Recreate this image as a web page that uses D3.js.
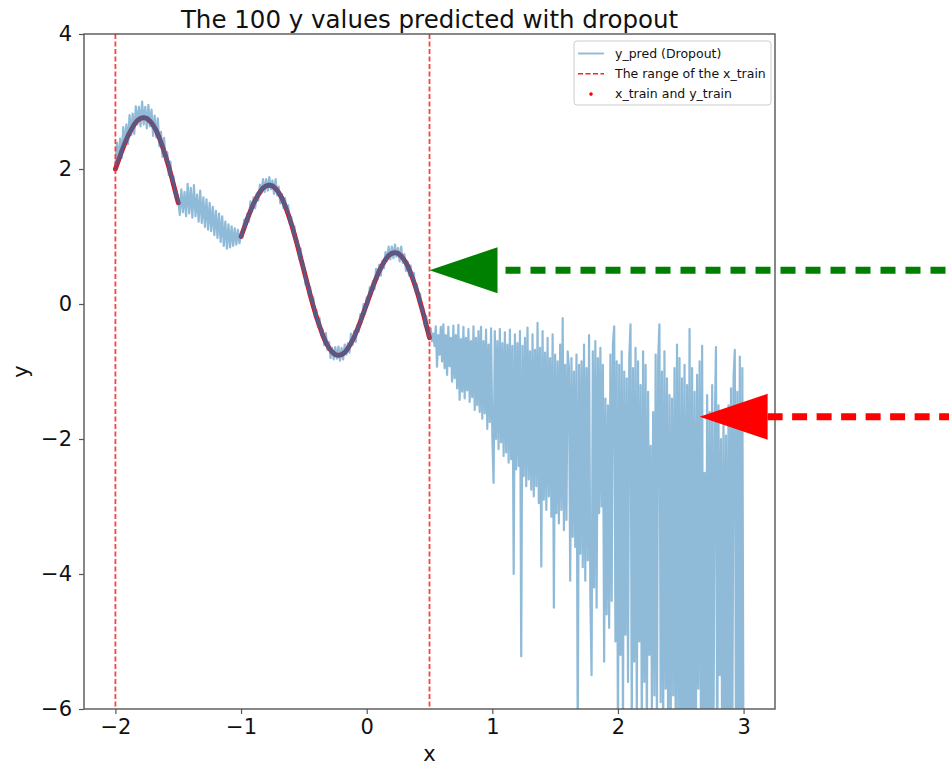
<!DOCTYPE html>
<html>
<head>
<meta charset="utf-8">
<script src="https://cdn.jsdelivr.net/npm/d3@7"></script>
<style>
body { margin: 0; background: #fff; }
svg { display: block; font-family: "DejaVu Sans", sans-serif; }
</style>
</head>
<body>
<svg id="chart" width="949" height="766"></svg>
<script>
//Chart texts and ticks
const TITLE = "The 100 y values predicted with dropout";
const X_LABEL = "x";
const Y_LABEL = "y";
const X_TICKS = [-2, -1, 0, 1, 2, 3];
const Y_TICKS = [-6, -4, -2, 0, 2, 4];
const X_DOMAIN = [-2.25, 3.25];
const Y_DOMAIN = [-6, 4];
const LEGEND_LABELS = ["y_pred (Dropout)", "The range of the x_train", "x_train and y_train"];

//Borders of the training range (the red dashed lines)
const X_TRAIN_RANGE = [-2, 0.5];

//Training points (dense enough to read as one thick curve)
const X_TRAIN = [-2, -1.975, -1.95, -1.925, -1.9, -1.875, -1.85, -1.825, -1.8, -1.775, -1.75, -1.725, -1.7, -1.675, -1.65, -1.625, -1.6, -1.575, -1.55, -1.525, -1.5,
	-1, -0.975, -0.95, -0.925, -0.9, -0.875, -0.85, -0.825, -0.8, -0.775, -0.75, -0.725, -0.7, -0.675, -0.65, -0.625, -0.6, -0.575, -0.55, -0.525,
	-0.5, -0.475, -0.45, -0.425, -0.4, -0.375, -0.35, -0.325, -0.3, -0.275, -0.25, -0.225, -0.2, -0.175, -0.15, -0.125, -0.1, -0.075, -0.05, -0.025,
	0, 0.025, 0.05, 0.075, 0.1, 0.125, 0.15, 0.175, 0.2, 0.225, 0.25, 0.275, 0.3, 0.325, 0.35, 0.375, 0.4, 0.425, 0.45, 0.475, 0.5];
const Y_TRAIN = [2.00, 2.13, 2.26, 2.38, 2.49, 2.58, 2.66, 2.72, 2.75, 2.76, 2.75, 2.71, 2.65, 2.57, 2.46, 2.33, 2.19, 2.03, 1.86, 1.68, 1.50,
	1.00, 1.13, 1.26, 1.38, 1.49, 1.58, 1.66, 1.72, 1.75, 1.76, 1.75, 1.71, 1.65, 1.57, 1.46, 1.33, 1.19, 1.03, 0.86, 0.68,
	0.50, 0.32, 0.14, -0.03, -0.19, -0.33, -0.46, -0.57, -0.65, -0.71, -0.75, -0.76, -0.75, -0.72, -0.66, -0.58, -0.49, -0.38, -0.26, -0.13,
	0.00, 0.13, 0.26, 0.38, 0.49, 0.58, 0.66, 0.72, 0.75, 0.76, 0.75, 0.71, 0.65, 0.57, 0.46, 0.33, 0.19, 0.03, -0.14, -0.32, -0.50];

//Predictions inside the training range: x from -2 to 0.5, step 0.0125
const PRED_IN_START = -2;
const PRED_IN_STEP = 0.0125;
const Y_PRED_IN = [2.05, 2.39, 2.09, 2.45, 2.16, 2.62, 2.33, 2.66, 2.37, 2.80,
	2.50, 2.82, 2.52, 2.93, 2.66, 2.92, 2.63, 3.00, 2.66, 2.92,
	2.60, 2.95, 2.63, 2.88, 2.49, 2.79, 2.47, 2.75, 2.34, 2.55,
	2.18, 2.46, 2.11, 2.25, 1.91, 2.11, 1.80, 1.89, 1.58, 1.67,
	1.55, 1.32, 1.70, 1.36, 1.66, 1.30, 1.78, 1.34, 1.72, 1.28,
	1.76, 1.30, 1.62, 1.22, 1.68, 1.20, 1.58, 1.14, 1.55, 1.10,
	1.50, 1.08, 1.44, 1.02, 1.38, 0.98, 1.34, 0.92, 1.30, 0.86,
	1.22, 0.82, 1.18, 0.84, 1.15, 0.86, 1.12, 0.88, 1.10, 0.90,
	1.05, 0.99, 1.25, 1.14, 1.34, 1.22, 1.52, 1.37, 1.58, 1.42,
	1.64, 1.53, 1.77, 1.64, 1.85, 1.66, 1.85, 1.68, 1.88, 1.70,
	1.83, 1.63, 1.85, 1.61, 1.74, 1.49, 1.63, 1.42, 1.57, 1.35,
	1.46, 1.18, 1.29, 1.03, 1.15, 0.89, 0.94, 0.67, 0.82, 0.52,
	0.59, 0.29, 0.38, 0.14, 0.25, 0.01, 0.10, -0.19, -0.09, -0.34,
	-0.21, -0.46, -0.38, -0.61, -0.43, -0.68, -0.56, -0.80, -0.65, -0.82,
	-0.64, -0.81, -0.63, -0.84, -0.65, -0.82, -0.60, -0.75, -0.58, -0.72,
	-0.44, -0.61, -0.40, -0.56, -0.32, -0.41, -0.15, -0.25, 0.00, -0.15,
	0.10, -0.01, 0.25, 0.14, 0.34, 0.22, 0.52, 0.37, 0.58, 0.42,
	0.64, 0.53, 0.77, 0.64, 0.85, 0.66, 0.85, 0.68, 0.88, 0.70,
	0.83, 0.63, 0.85, 0.61, 0.74, 0.49, 0.63, 0.42, 0.57, 0.35,
	0.46, 0.18, 0.29, 0.03, 0.15, -0.12, -0.06, -0.33, -0.18, -0.48,
	-0.45];

//Predictions outside the training range: x from 0.51 to 3, step 0.01
const PRED_OUT_START = 0.51;
const PRED_OUT_STEP = 0.01;
const Y_PRED_OUT = [-0.36, -0.55, -0.44, -0.62, -0.33, -0.93, -0.46, -0.75, -0.34, -0.85,
	-0.30, -0.95, -0.46, -1.05, -0.34, -0.92, -0.50, -1.15, -0.32, -1.10,
	-0.46, -1.25, -0.31, -1.42, -0.52, -1.30, -0.34, -1.40, -0.50, -1.28,
	-0.37, -1.45, -0.55, -1.38, -0.33, -1.57, -0.50, -1.50, -0.40, -1.60,
	-0.34, -1.70, -0.55, -1.62, -0.38, -1.85, -0.60, -1.75, -0.36, -1.95,
	-2.65, -0.40, -2.00, -0.55, -2.15, -0.37, -2.05, -0.58, -2.25, -0.42,
	-2.20, -0.60, -2.35, -0.38, -2.30, -0.62, -4.00, -0.45, -2.45, -0.58,
	-2.40, -0.40, -5.22, -0.62, -2.55, -0.50, -2.70, -0.35, -2.60, -0.70,
	-2.75, -0.45, -2.85, -0.68, -2.70, -0.28, -2.95, -0.65, -3.89, -0.40,
	-2.90, -0.72, -3.05, -0.50, -2.85, -0.80, -3.15, -0.45, -4.50, -0.75,
	-3.10, -0.85, -3.25, -0.60, -3.05, -0.21, -3.35, -0.90, -3.20, -0.70,
	-0.95, -4.10, -0.80, -3.45, -1.00, -3.60, -0.75, -6.60, -0.90, -3.70,
	-0.85, -3.90, -0.60, -4.10, -0.95, -3.80, -0.46, -4.30, -5.50, -0.70,
	-4.20, -0.55, -4.50, -0.80, -3.10, -0.65, -3.00, -0.90, -5.30, -1.40,
	-4.60, -1.50, -4.80, -0.75, -4.40, -0.60, -0.33, -5.00, -0.85, -6.50,
	-0.90, -5.20, -0.70, -6.30, -1.00, -4.90, -1.10, -5.60, -0.80, -0.30,
	-6.40, -0.95, -5.30, -0.65, -6.20, -0.85, -5.00, -1.20, -6.50, -0.70,
	-5.60, -0.90, -6.60, -1.30, -5.20, -2.10, -6.00, -1.60, -5.80, -0.75,
	-6.30, -0.85, -0.30, -5.90, -1.00, -6.50, -0.70, -5.70, -1.10, -6.80,
	-1.35, -6.20, -1.40, -5.80, -0.95, -6.60, -0.60, -6.00, -0.80, -7.00,
	-1.10, -6.40, -0.90, -6.90, -1.20, -6.30, -0.37, -7.20, -0.95, -6.50,
	-1.30, -6.80, -1.05, -5.70, -0.85, -6.20, -0.62, -7.40, -2.50, -6.90,
	-1.35, -6.60, -1.60, -7.10, -1.20, -6.80, -1.90, -0.64, -7.30, -1.50,
	-5.50, -2.00, -7.00, -1.70, -6.50, -1.95, -7.20, -1.50, -6.90, -1.25,
	-6.80, -1.10, -0.68, -7.00, -1.30, -6.60, -0.78, -7.20, -0.95, -7.50];

//Annotation arrows (tips in data coordinates)
const ARROW_X = [0.5, 2.65];
const ARROW_Y = [0.5, -1.67];
const ARROW_COLORS = ["#008000", "#ff0000"];

//Layout
const WIDTH = 949;
const HEIGHT = 766;
const PLOT_LEFT = 84;
const PLOT_RIGHT = 775;
const PLOT_TOP = 34;
const PLOT_BOTTOM = 709;
const BLUE = "#1f77b4";
const SPINE_COLOR = "#555";
const TICK_FONT = "21px";
const PRED_WIDTH = 2.2;


const svg = d3.select("#chart");

const x = d3.scaleLinear().domain(X_DOMAIN).range([PLOT_LEFT, PLOT_RIGHT]);
const y = d3.scaleLinear().domain(Y_DOMAIN).range([PLOT_BOTTOM, PLOT_TOP]);
const line = d3.line().x(d => x(d.x)).y(d => y(d.y));

//Build the prediction line from both grids
var pred = Y_PRED_IN.map((v, i) => ({x: PRED_IN_START + i * PRED_IN_STEP, y: v}));
pred = pred.concat(Y_PRED_OUT.map((v, i) => ({x: PRED_OUT_START + i * PRED_OUT_STEP, y: v})));

//Training points, split where the x gap is (the dots are so dense they form a thick curve)
const train = X_TRAIN.map((v, i) => ({x: v, y: Y_TRAIN[i]}));
const train_parts = [train.filter(d => d.x <= -1.5), train.filter(d => d.x >= -1)];

//Clip everything inside the axes
svg.append("clipPath").attr("id", "plot_clip")
	.append("rect")
	.attr("x", PLOT_LEFT).attr("y", PLOT_TOP)
	.attr("width", PLOT_RIGHT - PLOT_LEFT).attr("height", PLOT_BOTTOM - PLOT_TOP);

const plot = svg.append("g").attr("clip-path", "url(#plot_clip)");

//Training points in red
plot.selectAll("path.train")
	.data(train_parts)
	.enter()
	.append("path")
	.attr("class", "train")
	.attr("d", line)
	.attr("fill", "none")
	.attr("stroke", "#ff0000")
	.attr("stroke-width", 4.8)
	.attr("stroke-linecap", "round")
	.attr("stroke-linejoin", "round");

//The translucent prediction lies right on the training points and darkens them
plot.selectAll("path.train_cover")
	.data(train_parts)
	.enter()
	.append("path")
	.attr("class", "train_cover")
	.attr("d", line)
	.attr("fill", "none")
	.attr("stroke", BLUE)
	.attr("stroke-opacity", 0.5)
	.attr("stroke-width", 3.6)
	.attr("stroke-linecap", "round")
	.attr("stroke-linejoin", "round");

//Prediction line
plot.append("path")
	.datum(pred)
	.attr("d", line)
	.attr("fill", "none")
	.attr("stroke", BLUE)
	.attr("stroke-opacity", 0.5)
	.attr("stroke-width", PRED_WIDTH)
	.attr("stroke-linejoin", "round");

//Range of the training data
plot.selectAll("line.range")
	.data(X_TRAIN_RANGE)
	.enter()
	.append("line")
	.attr("class", "range")
	.attr("x1", d => x(d)).attr("x2", d => x(d))
	.attr("y1", PLOT_TOP).attr("y2", PLOT_BOTTOM)
	.attr("stroke", "#ff2020")
	.attr("stroke-opacity", 0.85)
	.attr("stroke-width", 1.8)
	.attr("stroke-dasharray", "5,2.5");

//Axes
const x_axis = svg.append("g")
	.attr("transform", "translate(0," + PLOT_BOTTOM + ")")
	.call(d3.axisBottom(x).tickValues(X_TICKS).tickFormat(d3.format("d")).tickSize(5).tickPadding(5).tickSizeOuter(0));
const y_axis = svg.append("g")
	.attr("transform", "translate(" + PLOT_LEFT + ",0)")
	.call(d3.axisLeft(y).tickValues(Y_TICKS).tickFormat(d3.format("d")).tickSize(5).tickPadding(7).tickSizeOuter(0));
for (const ax of [x_axis, y_axis])
{
	ax.select(".domain").remove();
	ax.selectAll(".tick line").attr("stroke", SPINE_COLOR).attr("stroke-width", 1.2);
	ax.selectAll(".tick text")
		.attr("fill", "#111")
		.style("font-family", "DejaVu Sans")
		.style("font-size", TICK_FONT);
}

//Spines
svg.append("rect")
	.attr("x", PLOT_LEFT).attr("y", PLOT_TOP)
	.attr("width", PLOT_RIGHT - PLOT_LEFT).attr("height", PLOT_BOTTOM - PLOT_TOP)
	.attr("fill", "none")
	.attr("stroke", SPINE_COLOR)
	.attr("stroke-width", 1.4);

//Title and axis labels
svg.append("text")
	.attr("x", (PLOT_LEFT + PLOT_RIGHT) / 2)
	.attr("y", 28)
	.attr("text-anchor", "middle")
	.attr("fill", "#111")
	.style("font-size", "24.5px")
	.text(TITLE);
svg.append("text")
	.attr("x", (PLOT_LEFT + PLOT_RIGHT) / 2)
	.attr("y", 761)
	.attr("text-anchor", "middle")
	.attr("fill", "#111")
	.style("font-size", "21px")
	.text(X_LABEL);
svg.append("text")
	.attr("transform", "translate(28," + (PLOT_TOP + PLOT_BOTTOM) / 2 + ") rotate(-90)")
	.attr("text-anchor", "middle")
	.attr("fill", "#111")
	.style("font-size", "21px")
	.text(Y_LABEL);

//Legend
const legend = svg.append("g").attr("transform", "translate(574,41)");
legend.append("rect")
	.attr("width", 197).attr("height", 64)
	.attr("rx", 3)
	.attr("fill", "#fff").attr("fill-opacity", 0.8)
	.attr("stroke", "#ccc");
const rows = legend.selectAll("g.row")
	.data(LEGEND_LABELS)
	.enter()
	.append("g")
	.attr("class", "row")
	.attr("transform", (d, i) => "translate(0," + (12.5 + i * 20.3) + ")");
rows.append("text")
	.attr("x", 41)
	.attr("dy", "0.35em")
	.attr("fill", "#111")
	.style("font-size", "12.5px")
	.text(d => d);
rows.filter((d, i) => i == 0).append("line")
	.attr("x1", 4).attr("x2", 30)
	.attr("stroke", BLUE).attr("stroke-opacity", 0.5).attr("stroke-width", 1.9);
rows.filter((d, i) => i == 1).append("line")
	.attr("x1", 4).attr("x2", 30)
	.attr("stroke", "#ff2020").attr("stroke-width", 1.6).attr("stroke-dasharray", "5,2.5");
rows.filter((d, i) => i == 2).append("circle")
	.attr("cx", 17).attr("r", 1.8)
	.attr("fill", "#ff0000");

//Annotation arrows: triangle head at the tip, thick dashed tail to the right border
const arrows = svg.selectAll("g.arrow")
	.data(ARROW_X.map((v, i) => ({x: v, y: ARROW_Y[i], color: ARROW_COLORS[i]})))
	.enter()
	.append("g")
	.attr("class", "arrow")
	.attr("transform", d => "translate(" + x(d.x) + "," + y(d.y) + ")");
arrows.append("line")
	.attr("x1", (d, i) => i == 0 ? 76 : 68)
	.attr("x2", d => WIDTH - x(d.x) + 10)
	.attr("stroke", d => d.color)
	.attr("stroke-width", 7)
	.attr("stroke-dasharray", (d, i) => i == 0 ? "15,10" : "15,9.5");
arrows.append("path")
	.attr("d", "M0,0L68,-23L68,23Z")
	.attr("fill", d => d.color);
</script>
</body>
</html>
